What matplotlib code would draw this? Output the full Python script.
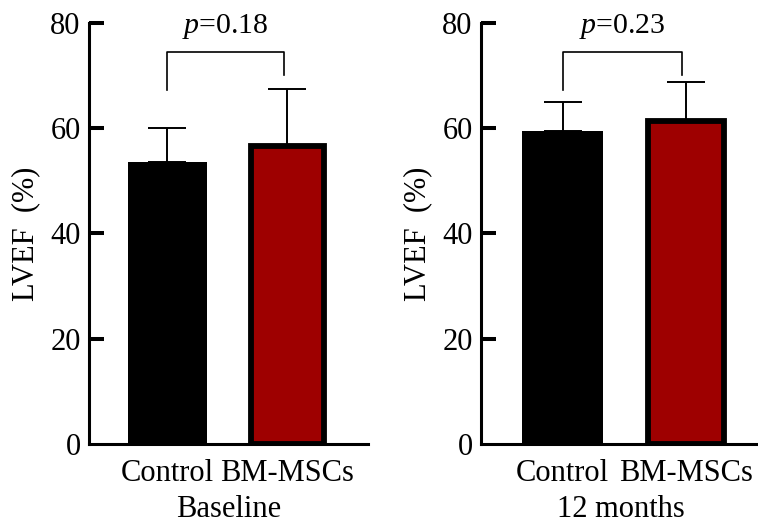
import matplotlib
matplotlib.use("Agg")
import matplotlib.pyplot as plt

# LVEF values (mean, upper SD)
groups = ["Control", "BM-MSCs"]
timepoints = ["Baseline", "12 months"]
baseline_mean = [53.5, 56.6]
baseline_sd = [6.6, 10.9]
month12_mean = [59.5, 61.4]
month12_sd = [5.5, 7.4]
p_values = ["0.18", "0.23"]

plt.rcParams["font.family"] = ["Liberation Serif", "DejaVu Serif"]
plt.rcParams["mathtext.fontset"] = "custom"
plt.rcParams["mathtext.rm"] = "Liberation Serif"
plt.rcParams["mathtext.it"] = "Liberation Serif:italic"

fig = plt.figure(figsize=(7.58, 5.24), dpi=100)
ax1 = fig.add_axes([0.1174, 0.1527, 0.3681, 0.8034])
ax2 = fig.add_axes([0.6346, 0.1527, 0.3694, 0.8034])

panels = [
    (ax1, baseline_mean, baseline_sd, timepoints[0], p_values[0], (-0.654, 1.671)),
    (ax2, month12_mean, month12_sd, timepoints[1], p_values[1], (-0.661, 1.61)),
]

for ax, means, sds, label, pval, xlim in panels:
    # control bar, then treated bar with thick black edge
    ax.bar(0, means[0], width=0.66, color="black", edgecolor="black", linewidth=0, zorder=2)
    ax.bar(1, means[1], width=0.615, color="#9e0000", edgecolor="black", linewidth=4.2, zorder=2)
    ax.errorbar([0, 1], means, yerr=[[0, 0], sds], fmt="none", ecolor="black",
                elinewidth=1.4, capsize=14, capthick=1.4, zorder=1)

    # significance bracket
    ax.plot([0, 0, 0.97, 0.97], [67.3, 74.5, 74.5, 70.2], color="black", lw=1.2, clip_on=False)
    ax.text(0.485, 78.1, r"$p$=" + pval, ha="center", va="baseline", fontsize=21.5, clip_on=False)

    ax.set_ylim(0, 80)
    ax.set_xlim(*xlim)
    ax.set_yticks([0, 20, 40, 60, 80])
    ax.set_xticks([0, 1])
    ax.set_xticklabels(groups, fontsize=22)
    ax.set_xlabel(label, fontsize=22, labelpad=5)
    ax.set_ylabel("LVEF  (%)", fontsize=22, labelpad=7)
    ax.tick_params(axis="y", direction="in", length=11, width=2.9, labelsize=22, pad=6)
    ax.tick_params(axis="x", length=0, pad=11)
    ax.yaxis.get_major_ticks()[0].tick1line.set_visible(False)
    ax.spines["top"].set_visible(False)
    ax.spines["right"].set_visible(False)
    ax.spines["left"].set_linewidth(2.2)
    ax.spines["bottom"].set_linewidth(2.2)

plt.savefig("out.png", dpi=100)
